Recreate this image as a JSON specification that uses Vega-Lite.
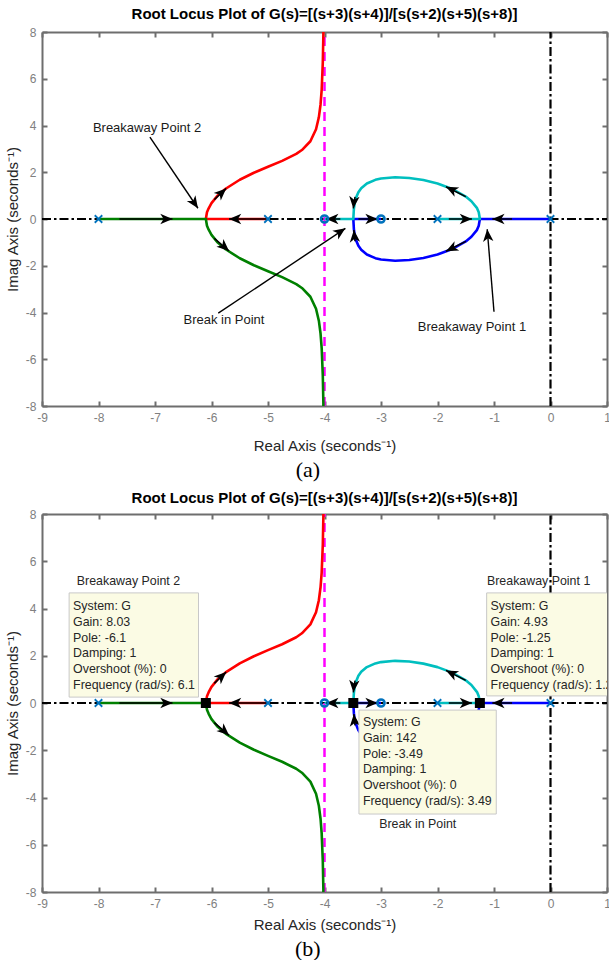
{
  "$schema": "https://vega.github.io/schema/vega-lite/v6.json",
  "background": "white",
  "padding": {"left": 5, "top": 7, "right": 0, "bottom": 0},
  "config": {
    "font": "Liberation Sans",
    "view": {"stroke": null},
    "axis": {"grid": false, "domainColor": "#6e6e6e", "domainWidth": 2, "tickColor": "#6e6e6e", "tickWidth": 2, "tickSize": -5, "labelColor": "#808080", "labelFont": "Liberation Sans", "labelFontSize": 12, "labelPadding": 11, "labelFlush": false, "labelOverlap": false, "titleFont": "Liberation Sans", "titleFontSize": 15, "titleFontWeight": "normal", "titleColor": "#262626"},
    "title": {"font": "Liberation Sans", "fontSize": 15, "fontWeight": "bold", "color": "#000000"}
  },
  "datasets": {
    "dashdot": [{"x": -9, "x2": 1, "y": 0, "y2": 0}, {"x": 0, "x2": 0, "y": -8, "y2": 8}],
    "asym": [{"x": -4, "x2": -4, "y": -8, "y2": 8}],
    "locus": [
      {"b": "red", "i": 0, "x": -5, "y": 0}, {"b": "red", "i": 1, "x": -6.1, "y": 0}, {"b": "red", "i": 2, "x": -6.08, "y": 0.29}, {"b": "red", "i": 3, "x": -6.05, "y": 0.459}, {"b": "red", "i": 4, "x": -6.0, "y": 0.68}, {"b": "red", "i": 5, "x": -5.9, "y": 0.98}, {"b": "red", "i": 6, "x": -5.75, "y": 1.295}, {"b": "red", "i": 7, "x": -5.5, "y": 1.68}, {"b": "red", "i": 8, "x": -5.25, "y": 1.978}, {"b": "red", "i": 9, "x": -5.0, "y": 2.236}, {"b": "red", "i": 10, "x": -4.75, "y": 2.487}, {"b": "red", "i": 11, "x": -4.5, "y": 2.784}, {"b": "red", "i": 12, "x": -4.4, "y": 2.95}, {"b": "red", "i": 13, "x": -4.25, "y": 3.326}, {"b": "red", "i": 14, "x": -4.15, "y": 3.84}, {"b": "red", "i": 15, "x": -4.1, "y": 4.35}, {"b": "red", "i": 16, "x": -4.07, "y": 4.9}, {"b": "red", "i": 17, "x": -4.05, "y": 5.52}, {"b": "red", "i": 18, "x": -4.03, "y": 6.7}, {"b": "red", "i": 19, "x": -4.02, "y": 7.88}, {"b": "red", "i": 20, "x": -4.015, "y": 8.92},
      {"b": "green", "i": 0, "x": -8, "y": 0}, {"b": "green", "i": 1, "x": -6.1, "y": 0}, {"b": "green", "i": 2, "x": -6.08, "y": -0.29}, {"b": "green", "i": 3, "x": -6.05, "y": -0.459}, {"b": "green", "i": 4, "x": -6.0, "y": -0.68}, {"b": "green", "i": 5, "x": -5.9, "y": -0.98}, {"b": "green", "i": 6, "x": -5.75, "y": -1.295}, {"b": "green", "i": 7, "x": -5.5, "y": -1.68}, {"b": "green", "i": 8, "x": -5.25, "y": -1.978}, {"b": "green", "i": 9, "x": -5.0, "y": -2.236}, {"b": "green", "i": 10, "x": -4.75, "y": -2.487}, {"b": "green", "i": 11, "x": -4.5, "y": -2.784}, {"b": "green", "i": 12, "x": -4.4, "y": -2.95}, {"b": "green", "i": 13, "x": -4.25, "y": -3.326}, {"b": "green", "i": 14, "x": -4.15, "y": -3.84}, {"b": "green", "i": 15, "x": -4.1, "y": -4.35}, {"b": "green", "i": 16, "x": -4.07, "y": -4.9}, {"b": "green", "i": 17, "x": -4.05, "y": -5.52}, {"b": "green", "i": 18, "x": -4.03, "y": -6.7}, {"b": "green", "i": 19, "x": -4.02, "y": -7.88}, {"b": "green", "i": 20, "x": -4.015, "y": -8.92},
      {"b": "blue", "i": 0, "x": 0, "y": 0}, {"b": "blue", "i": 1, "x": -1.25, "y": 0}, {"b": "blue", "i": 2, "x": -1.27, "y": -0.29}, {"b": "blue", "i": 3, "x": -1.3, "y": -0.463}, {"b": "blue", "i": 4, "x": -1.4, "y": -0.76}, {"b": "blue", "i": 5, "x": -1.5, "y": -0.959}, {"b": "blue", "i": 6, "x": -1.75, "y": -1.297}, {"b": "blue", "i": 7, "x": -2.0, "y": -1.519}, {"b": "blue", "i": 8, "x": -2.25, "y": -1.667}, {"b": "blue", "i": 9, "x": -2.5, "y": -1.756}, {"b": "blue", "i": 10, "x": -2.75, "y": -1.785}, {"b": "blue", "i": 11, "x": -3.0, "y": -1.732}, {"b": "blue", "i": 12, "x": -3.1, "y": -1.676}, {"b": "blue", "i": 13, "x": -3.25, "y": -1.52}, {"b": "blue", "i": 14, "x": -3.35, "y": -1.318}, {"b": "blue", "i": 15, "x": -3.4, "y": -1.149}, {"b": "blue", "i": 16, "x": -3.45, "y": -0.861}, {"b": "blue", "i": 17, "x": -3.47, "y": -0.61}, {"b": "blue", "i": 18, "x": -3.48, "y": -0.43}, {"b": "blue", "i": 19, "x": -3.49, "y": 0}, {"b": "blue", "i": 20, "x": -3.0, "y": 0},
      {"b": "cyan", "i": 0, "x": -2, "y": 0}, {"b": "cyan", "i": 1, "x": -1.25, "y": 0}, {"b": "cyan", "i": 2, "x": -1.27, "y": 0.29}, {"b": "cyan", "i": 3, "x": -1.3, "y": 0.463}, {"b": "cyan", "i": 4, "x": -1.4, "y": 0.76}, {"b": "cyan", "i": 5, "x": -1.5, "y": 0.959}, {"b": "cyan", "i": 6, "x": -1.75, "y": 1.297}, {"b": "cyan", "i": 7, "x": -2.0, "y": 1.519}, {"b": "cyan", "i": 8, "x": -2.25, "y": 1.667}, {"b": "cyan", "i": 9, "x": -2.5, "y": 1.756}, {"b": "cyan", "i": 10, "x": -2.75, "y": 1.785}, {"b": "cyan", "i": 11, "x": -3.0, "y": 1.732}, {"b": "cyan", "i": 12, "x": -3.1, "y": 1.676}, {"b": "cyan", "i": 13, "x": -3.25, "y": 1.52}, {"b": "cyan", "i": 14, "x": -3.35, "y": 1.318}, {"b": "cyan", "i": 15, "x": -3.4, "y": 1.149}, {"b": "cyan", "i": 16, "x": -3.45, "y": 0.861}, {"b": "cyan", "i": 17, "x": -3.47, "y": 0.61}, {"b": "cyan", "i": 18, "x": -3.48, "y": 0.43}, {"b": "cyan", "i": 19, "x": -3.49, "y": 0}, {"b": "cyan", "i": 20, "x": -4.0, "y": 0}
    ],
    "arrows": [
      {"x0": -7.63, "y0": 0, "x": -6.69, "y": 0, "a": 0},
      {"x0": -5.0, "y0": 0, "x": -5.69, "y": 0, "a": 180},
      {"x0": -5.95, "y0": 0.83, "x": -5.74, "y": 1.31, "a": -43},
      {"x0": -5.95, "y0": -0.83, "x": -5.69, "y": -1.37, "a": 42},
      {"x0": -3.72, "y0": 0, "x": -3.97, "y": 0, "a": 180},
      {"x0": -3.4, "y0": 0, "x": -3.06, "y": 0, "a": 0},
      {"x0": -3.46, "y0": 0.95, "x": -3.49, "y": 0.45, "a": 95},
      {"x0": -3.46, "y0": -0.95, "x": -3.48, "y": -0.47, "a": -95},
      {"x0": -1.5, "y0": 0.96, "x": -1.85, "y": 1.38, "a": -153.5},
      {"x0": -1.5, "y0": -0.96, "x": -1.85, "y": -1.38, "a": 153.5},
      {"x0": -1.8, "y0": 0, "x": -1.39, "y": 0, "a": 0},
      {"x0": -0.68, "y0": 0, "x": -1.03, "y": 0, "a": 180}
    ],
    "poles": [{"x": 0, "y": 0}, {"x": -2, "y": 0}, {"x": -5, "y": 0}, {"x": -8, "y": 0}],
    "zeros": [{"x": -3, "y": 0}, {"x": -4, "y": 0}],
    "annArrowsA": [
      {"x0": -7.09, "y0": 3.5, "x": -6.24, "y": 0.46, "a": 56},
      {"x0": -5.88, "y0": -4.03, "x": -3.63, "y": -0.4, "a": -33.8},
      {"x0": -1.0, "y0": -3.97, "x": -1.12, "y": -0.44, "a": -94.7}
    ],
    "annTextA": [
      {"x": -7.14, "y": 3.89, "t": "Breakaway Point 2"},
      {"x": -5.78, "y": -4.32, "t": "Break in Point"},
      {"x": -1.39, "y": -4.62, "t": "Breakaway Point 1"}
    ],
    "annTextB": [
      {"x": -7.47, "y": 5.16, "t": "Breakaway Point 2"},
      {"x": -0.21, "y": 5.16, "t": "Breakaway Point 1"},
      {"x": -2.35, "y": -5.12, "t": "Break in Point"}
    ],
    "tipBoxes": [
      {"x": -8.52, "x2": -6.23, "y": 0.25, "y2": 4.66},
      {"x": -1.13, "x2": 1.6, "y": 0.3, "y2": 4.66},
      {"x": -3.39, "x2": -0.96, "y": -4.7, "y2": -0.3}
    ],
    "tipText": [
      {"x": -8.45, "y": 4.36, "t": "System: G\nGain: 8.03\nPole: -6.1\nDamping: 1\nOvershoot (%): 0\nFrequency (rad/s): 6.1"},
      {"x": -1.06, "y": 4.36, "t": "System: G\nGain: 4.93\nPole: -1.25\nDamping: 1\nOvershoot (%): 0\nFrequency (rad/s): 1.25"},
      {"x": -3.32, "y": -0.55, "t": "System: G\nGain: 142\nPole: -3.49\nDamping: 1\nOvershoot (%): 0\nFrequency (rad/s): 3.49"}
    ],
    "squares": [{"x": -6.1, "y": 0}, {"x": -3.49, "y": 0}, {"x": -1.25, "y": 0}]
  },
  "spacing": 10,
  "vconcat": [
    {
      "title": {"text": "(a)", "orient": "bottom", "font": "Liberation Serif", "fontSize": 22, "fontWeight": "normal", "color": "#000000", "offset": 7, "anchor": "middle"},
      "vconcat": [
        {
          "width": 565,
          "height": 374,
          "title": {"text": "Root Locus Plot of G(s)=[(s+3)(s+4)]/[s(s+2)(s+5)(s+8)]", "frame": "group", "anchor": "middle", "offset": 4},
          "resolve": {"axis": {"x": "independent", "y": "independent"}},
          "layer": [
            {"data": {"name": "dashdot"}, "mark": {"type": "rule", "color": "#000000", "strokeWidth": 2.2, "strokeDash": [9, 3, 2.5, 3]},
             "encoding": {"x": {"field": "x", "type": "quantitative", "scale": {"domain": [-9, 1], "nice": false, "zero": false}, "axis": {"orient": "bottom", "values": [-9, -8, -7, -6, -5, -4, -3, -2, -1, 0, 1], "title": "Real Axis (seconds⁻¹)", "labelExpr": "toString(datum.value)", "titlePadding": 15}}, "x2": {"field": "x2"},
                          "y": {"field": "y", "type": "quantitative", "scale": {"domain": [-8, 8], "nice": false, "zero": false}, "axis": {"orient": "left", "values": [-8, -6, -4, -2, 0, 2, 4, 6, 8], "title": "Imag Axis (seconds⁻¹)", "labelExpr": "toString(datum.value)", "titlePadding": 5}}, "y2": {"field": "y2"}}},
            {"data": {"name": "asym"}, "mark": {"type": "rule", "color": "#FF00FF", "strokeWidth": 2.5, "strokeDash": [9, 6]},
             "encoding": {"x": {"field": "x", "type": "quantitative", "axis": {"orient": "top", "values": [-9, -8, -7, -6, -5, -4, -3, -2, -1, 0, 1], "labels": false, "title": null}}, "x2": {"field": "x2"},
                          "y": {"field": "y", "type": "quantitative", "axis": {"orient": "right", "values": [-8, -6, -4, -2, 0, 2, 4, 6, 8], "labels": false, "title": null}}, "y2": {"field": "y2"}}},
            {"data": {"name": "locus"}, "mark": {"type": "line", "strokeWidth": 2.6, "clip": true, "strokeJoin": "round"},
             "encoding": {"x": {"field": "x", "type": "quantitative", "axis": null}, "y": {"field": "y", "type": "quantitative", "axis": null},
                          "color": {"field": "b", "type": "nominal", "scale": {"domain": ["red", "green", "blue", "cyan"], "range": ["#FF0000", "#008000", "#0000FF", "#00BFBF"]}, "legend": null},
                          "order": {"field": "i", "type": "quantitative"}}},
            {"data": {"name": "arrows"}, "mark": {"type": "rule", "color": "#000000", "strokeWidth": 1.5},
             "encoding": {"x": {"field": "x0", "type": "quantitative", "axis": null}, "x2": {"field": "x"}, "y": {"field": "y0", "type": "quantitative", "axis": null}, "y2": {"field": "y"}}},
            {"data": {"name": "arrows"}, "mark": {"type": "point", "shape": "M0,0L-2,-0.85L-1.45,0L-2,0.85Z", "filled": true, "color": "#000000", "size": 150, "opacity": 1},
             "encoding": {"x": {"field": "x", "type": "quantitative", "axis": null}, "y": {"field": "y", "type": "quantitative", "axis": null}, "angle": {"field": "a", "type": "quantitative", "scale": null}}},
            {"data": {"name": "poles"}, "mark": {"type": "point", "shape": "M-1,-1L1,1M-1,1L1,-1", "filled": false, "color": "#0072BD", "strokeWidth": 1.8, "size": 56, "opacity": 1},
             "encoding": {"x": {"field": "x", "type": "quantitative", "axis": null}, "y": {"field": "y", "type": "quantitative", "axis": null}}},
            {"data": {"name": "zeros"}, "mark": {"type": "point", "shape": "circle", "filled": false, "color": "#0072BD", "strokeWidth": 2.6, "size": 50, "opacity": 1},
             "encoding": {"x": {"field": "x", "type": "quantitative", "axis": null}, "y": {"field": "y", "type": "quantitative", "axis": null}}},
            {"data": {"name": "annArrowsA"}, "mark": {"type": "rule", "color": "#000000", "strokeWidth": 1.4},
             "encoding": {"x": {"field": "x0", "type": "quantitative", "axis": null}, "x2": {"field": "x"}, "y": {"field": "y0", "type": "quantitative", "axis": null}, "y2": {"field": "y"}}},
            {"data": {"name": "annArrowsA"}, "mark": {"type": "point", "shape": "M0,0L-2,-0.85L-1.45,0L-2,0.85Z", "filled": true, "color": "#000000", "size": 150, "opacity": 1},
             "encoding": {"x": {"field": "x", "type": "quantitative", "axis": null}, "y": {"field": "y", "type": "quantitative", "axis": null}, "angle": {"field": "a", "type": "quantitative", "scale": null}}},
            {"data": {"name": "annTextA"}, "mark": {"type": "text", "font": "Liberation Sans", "fontSize": 13, "color": "#1a1a1a", "align": "center", "baseline": "middle"},
             "encoding": {"x": {"field": "x", "type": "quantitative", "axis": null}, "y": {"field": "y", "type": "quantitative", "axis": null}, "text": {"field": "t"}}}
          ]
        }
      ]
    },
    {
      "title": {"text": "(b)", "orient": "bottom", "font": "Liberation Serif", "fontSize": 22, "fontWeight": "normal", "color": "#000000", "offset": 7, "anchor": "middle"},
      "vconcat": [
        {
          "width": 565,
          "height": 378,
          "title": {"text": "Root Locus Plot of G(s)=[(s+3)(s+4)]/[s(s+2)(s+5)(s+8)]", "frame": "group", "anchor": "middle", "offset": 2},
          "resolve": {"axis": {"x": "independent", "y": "independent"}},
          "layer": [
            {"data": {"name": "dashdot"}, "mark": {"type": "rule", "color": "#000000", "strokeWidth": 2.2, "strokeDash": [9, 3, 2.5, 3]},
             "encoding": {"x": {"field": "x", "type": "quantitative", "scale": {"domain": [-9, 1], "nice": false, "zero": false}, "axis": {"orient": "bottom", "values": [-9, -8, -7, -6, -5, -4, -3, -2, -1, 0, 1], "title": "Real Axis (seconds⁻¹)", "labelExpr": "toString(datum.value)", "titlePadding": 8}}, "x2": {"field": "x2"},
                          "y": {"field": "y", "type": "quantitative", "scale": {"domain": [-8, 8], "nice": false, "zero": false}, "axis": {"orient": "left", "values": [-8, -6, -4, -2, 0, 2, 4, 6, 8], "title": "Imag Axis (seconds⁻¹)", "labelExpr": "toString(datum.value)", "titlePadding": 5}}, "y2": {"field": "y2"}}},
            {"data": {"name": "asym"}, "mark": {"type": "rule", "color": "#FF00FF", "strokeWidth": 2.5, "strokeDash": [9, 6]},
             "encoding": {"x": {"field": "x", "type": "quantitative", "axis": {"orient": "top", "values": [-9, -8, -7, -6, -5, -4, -3, -2, -1, 0, 1], "labels": false, "title": null}}, "x2": {"field": "x2"},
                          "y": {"field": "y", "type": "quantitative", "axis": {"orient": "right", "values": [-8, -6, -4, -2, 0, 2, 4, 6, 8], "labels": false, "title": null}}, "y2": {"field": "y2"}}},
            {"data": {"name": "locus"}, "mark": {"type": "line", "strokeWidth": 2.6, "clip": true, "strokeJoin": "round"},
             "encoding": {"x": {"field": "x", "type": "quantitative", "axis": null}, "y": {"field": "y", "type": "quantitative", "axis": null},
                          "color": {"field": "b", "type": "nominal", "scale": {"domain": ["red", "green", "blue", "cyan"], "range": ["#FF0000", "#008000", "#0000FF", "#00BFBF"]}, "legend": null},
                          "order": {"field": "i", "type": "quantitative"}}},
            {"data": {"name": "arrows"}, "mark": {"type": "rule", "color": "#000000", "strokeWidth": 1.5},
             "encoding": {"x": {"field": "x0", "type": "quantitative", "axis": null}, "x2": {"field": "x"}, "y": {"field": "y0", "type": "quantitative", "axis": null}, "y2": {"field": "y"}}},
            {"data": {"name": "arrows"}, "mark": {"type": "point", "shape": "M0,0L-2,-0.85L-1.45,0L-2,0.85Z", "filled": true, "color": "#000000", "size": 150, "opacity": 1},
             "encoding": {"x": {"field": "x", "type": "quantitative", "axis": null}, "y": {"field": "y", "type": "quantitative", "axis": null}, "angle": {"field": "a", "type": "quantitative", "scale": null}}},
            {"data": {"name": "poles"}, "mark": {"type": "point", "shape": "M-1,-1L1,1M-1,1L1,-1", "filled": false, "color": "#0072BD", "strokeWidth": 1.8, "size": 56, "opacity": 1},
             "encoding": {"x": {"field": "x", "type": "quantitative", "axis": null}, "y": {"field": "y", "type": "quantitative", "axis": null}}},
            {"data": {"name": "zeros"}, "mark": {"type": "point", "shape": "circle", "filled": false, "color": "#0072BD", "strokeWidth": 2.6, "size": 50, "opacity": 1},
             "encoding": {"x": {"field": "x", "type": "quantitative", "axis": null}, "y": {"field": "y", "type": "quantitative", "axis": null}}},
            {"data": {"name": "squares"}, "mark": {"type": "point", "shape": "square", "filled": true, "color": "#000000", "size": 100, "opacity": 1},
             "encoding": {"x": {"field": "x", "type": "quantitative", "axis": null}, "y": {"field": "y", "type": "quantitative", "axis": null}}},
            {"data": {"name": "tipBoxes"}, "mark": {"type": "rect", "fill": "#FBFBE4", "stroke": "#c8c8c8", "strokeWidth": 1, "clip": true},
             "encoding": {"x": {"field": "x", "type": "quantitative", "axis": null}, "x2": {"field": "x2"}, "y": {"field": "y", "type": "quantitative", "axis": null}, "y2": {"field": "y2"}}},
            {"data": {"name": "tipText"}, "mark": {"type": "text", "font": "Liberation Sans", "fontSize": 12.4, "color": "#262626", "align": "left", "baseline": "top", "lineBreak": "\n", "lineHeight": 15.8, "clip": true},
             "encoding": {"x": {"field": "x", "type": "quantitative", "axis": null}, "y": {"field": "y", "type": "quantitative", "axis": null}, "text": {"field": "t"}}},
            {"data": {"name": "annTextB"}, "mark": {"type": "text", "font": "Liberation Sans", "fontSize": 12.4, "color": "#262626", "align": "center", "baseline": "middle"},
             "encoding": {"x": {"field": "x", "type": "quantitative", "axis": null}, "y": {"field": "y", "type": "quantitative", "axis": null}, "text": {"field": "t"}}}
          ]
        }
      ]
    }
  ]
}
